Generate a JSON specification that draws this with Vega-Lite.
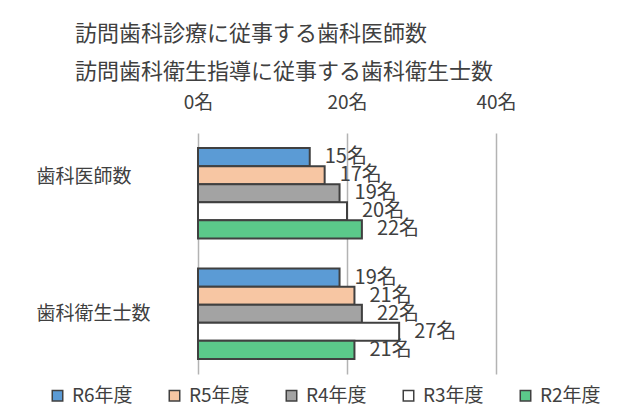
{
  "$schema": "https://vega.github.io/schema/vega-lite/v6.json",
  "width": 298,
  "height": 241,
  "autosize": {"type": "none"},
  "padding": {"left": 198, "top": 133, "right": 127, "bottom": 40},
  "background": "white",
  "title": {
    "text": ["訪問歯科診療に従事する歯科医師数", "訪問歯科衛生指導に従事する歯科衛生士数"],
    "anchor": "start",
    "frame": "group",
    "dx": -123,
    "fontSize": 22,
    "font": "Noto Sans CJK JP",
    "fontWeight": "normal",
    "color": "#404040",
    "lineHeight": 38,
    "offset": 9
  },
  "data": {
    "values": [
      {"category": "歯科医師数", "year": "R6年度", "value": 15},
      {"category": "歯科医師数", "year": "R5年度", "value": 17},
      {"category": "歯科医師数", "year": "R4年度", "value": 19},
      {"category": "歯科医師数", "year": "R3年度", "value": 20},
      {"category": "歯科医師数", "year": "R2年度", "value": 22},
      {"category": "歯科衛生士数", "year": "R6年度", "value": 19},
      {"category": "歯科衛生士数", "year": "R5年度", "value": 21},
      {"category": "歯科衛生士数", "year": "R4年度", "value": 22},
      {"category": "歯科衛生士数", "year": "R3年度", "value": 27},
      {"category": "歯科衛生士数", "year": "R2年度", "value": 21}
    ]
  },
  "transform": [{"calculate": "datum.value + '名'", "as": "label"}],
  "encoding": {
    "y": {
      "field": "category",
      "type": "nominal",
      "sort": ["歯科医師数", "歯科衛生士数"],
      "scale": {"paddingInner": 0.25, "paddingOuter": 0.125},
      "axis": {
        "title": null,
        "domain": false,
        "ticks": false,
        "tickSize": 0,
        "labelAlign": "left",
        "labelBaseline": "middle",
        "labelPadding": 162,
        "labelFontSize": 19,
        "labelFont": "Noto Sans CJK JP",
        "labelColor": "#404040",
        "labelOffset": {"condition": {"test": "datum.value === '歯科医師数'", "value": -16}, "value": 0}
      }
    },
    "yOffset": {
      "field": "year",
      "type": "nominal",
      "sort": ["R6年度", "R5年度", "R4年度", "R3年度", "R2年度"],
      "scale": {"paddingInner": 0, "paddingOuter": 0}
    },
    "x": {
      "field": "value",
      "type": "quantitative",
      "scale": {"domain": [0, 40]},
      "axis": {
        "orient": "top",
        "values": [0, 20, 40],
        "title": null,
        "domain": false,
        "ticks": false,
        "tickSize": 0,
        "labelExpr": "datum.value + '名'",
        "labelPadding": 21,
        "labelFontSize": 19,
        "labelFont": "Noto Sans CJK JP",
        "labelColor": "#404040",
        "labelFlush": false,
        "grid": true,
        "gridColor": "#B3B3B3",
        "gridWidth": 1.5
      }
    }
  },
  "layer": [
    {
      "mark": {"type": "bar", "stroke": "#404040", "strokeWidth": 2},
      "encoding": {
        "color": {
          "field": "year",
          "type": "nominal",
          "sort": ["R6年度", "R5年度", "R4年度", "R3年度", "R2年度"],
          "scale": {
            "domain": ["R6年度", "R5年度", "R4年度", "R3年度", "R2年度"],
            "range": ["#5B9BD5", "#F7C6A3", "#A3A3A3", "#FFFFFF", "#5BC98A"]
          },
          "legend": {
            "orient": "none",
            "legendX": -150,
            "legendY": 253,
            "direction": "horizontal",
            "columns": 5,
            "title": null,
            "padding": 0,
            "symbolType": "square",
            "symbolSize": 110,
            "symbolStrokeColor": "#404040",
            "symbolStrokeWidth": 1.5,
            "labelFontSize": 19,
            "labelFont": "Noto Sans CJK JP",
            "labelColor": "#404040",
            "labelOffset": 5,
            "columnPadding": 32
          }
        }
      }
    },
    {
      "mark": {"type": "text", "align": "left", "baseline": "middle", "dx": 15, "fontSize": 20, "font": "Noto Sans CJK JP", "color": "#404040"},
      "encoding": {"text": {"field": "label"}}
    }
  ],
  "config": {"view": {"stroke": null}}
}
